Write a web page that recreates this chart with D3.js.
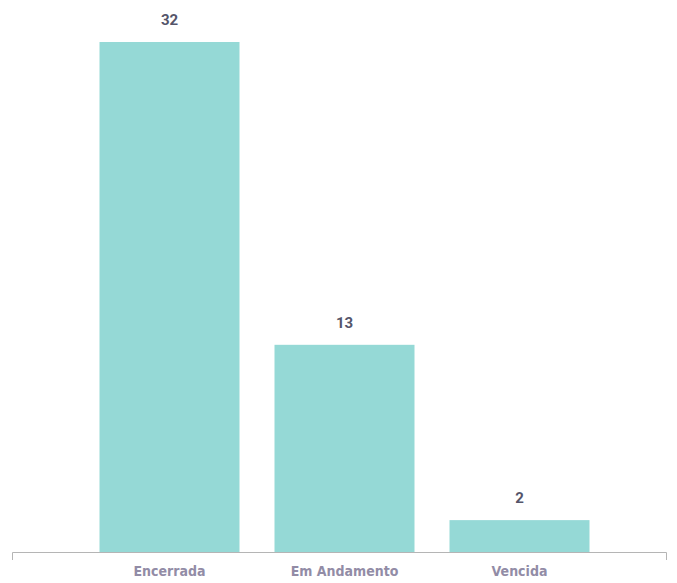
<!DOCTYPE html>
<html>
<head>
<meta charset="utf-8">
<script src="https://cdn.jsdelivr.net/npm/d3@7"></script>
<style>
  body { margin: 0; background: #fff; }
  svg { display: block; }
</style>
</head>
<body>
<svg width="677" height="583"></svg>
<script>
let svg = d3.select("svg")

const categories = ["Encerrada", "Em Andamento", "Vencida"]
const values = [32, 13, 2]

let x = d3.scaleBand().domain(categories).range([82, 607]).paddingInner(0.2).paddingOuter(0.1)
let y = d3.scaleLinear().domain([0, 32]).range([552, 42])

// bars
svg.selectAll(".bar")
  .data(categories)
  .enter().append("rect")
  .attr("class", "bar")
  .attr("x", d => x(d))
  .attr("width", x.bandwidth())
  .attr("y", (d, i) => y(values[i]))
  .attr("height", (d, i) => y(0) - y(values[i]))
  .attr("fill", "#95d9d6")

// value labels
svg.selectAll(".val")
  .data(categories)
  .enter().append("text")
  .attr("class", "val")
  .attr("x", d => x(d) + x.bandwidth() / 2)
  .attr("y", (d, i) => y(values[i]) - 17)
  .attr("text-anchor", "middle")
  .attr("font-family", "Roboto, sans-serif")
  .attr("font-weight", "bold")
  .attr("font-size", 15)
  .attr("fill", "#55556a")
  .text((d, i) => values[i])

// x axis
let axis = svg.append("g")
  .attr("transform", "translate(0," + y(0) + ")")
  .call(d3.axisBottom(x).tickSize(0).tickPadding(14))
axis.select(".domain").remove()
axis.append("path")
  .attr("d", "M12.5,8V0.5H666.5V8")
  .attr("fill", "none")
  .attr("stroke", "#b5b5b5")
axis.selectAll(".tick text")
  .attr("font-family", "'Liberation Sans Narrow', 'DejaVu Sans Condensed', sans-serif")
  .attr("font-stretch", "condensed")
  .attr("font-weight", "bold")
  .attr("font-size", 14)
  .attr("fill", "#928ca6")
</script>
</body>
</html>
